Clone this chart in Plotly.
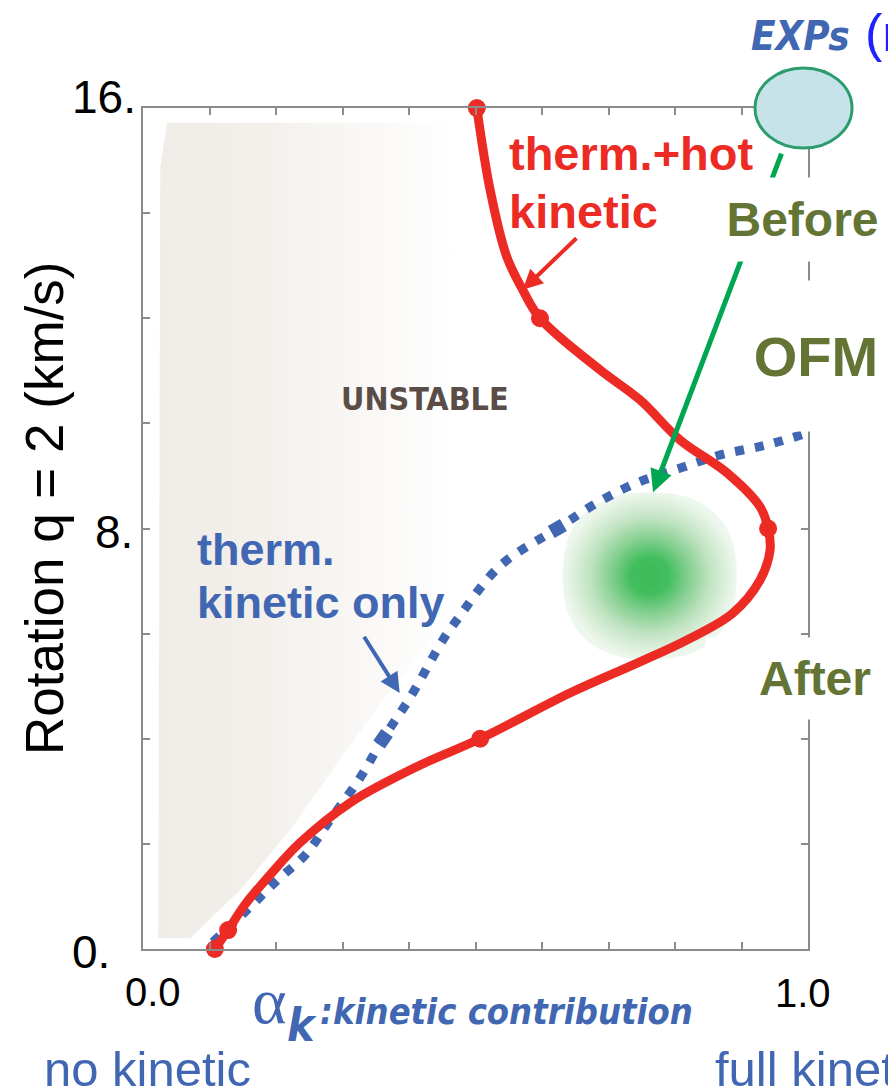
import numpy as np
import plotly.graph_objects as go

# ---- stability boundary: thermal + hot-particle kinetic effects ----
hot_alpha = [0.108, 0.128, 0.153, 0.191, 0.236, 0.311, 0.417, 0.507, 0.642, 0.743,
             0.818, 0.887, 0.928, 0.943, 0.940, 0.928, 0.878, 0.808, 0.747, 0.687,
             0.597, 0.571, 0.547, 0.522, 0.502]
hot_rot = [0.0, 0.36, 0.84, 1.41, 2.02, 2.78, 3.50, 4.0, 4.87, 5.44,
           5.88, 6.39, 7.02, 7.59, 8.0, 8.41, 9.06, 9.68, 10.45, 11.02,
           12.0, 12.54, 13.17, 14.44, 16.0]
hot_node_alpha = [0.108, 0.128, 0.507, 0.940, 0.597, 0.502]
hot_node_rot = [0.0, 0.36, 4.0, 8.0, 12.0, 16.0]

# ---- stability boundary: thermal kinetic effects only ----
therm_alpha = [0.105, 0.153, 0.202, 0.244, 0.281, 0.326, 0.361, 0.402, 0.451, 0.472,
               0.537, 0.623, 0.683, 0.743, 0.808, 0.868, 0.938, 1.0]
therm_rot = [0.13, 0.70, 1.31, 1.79, 2.45, 3.25, 4.0, 4.79, 5.88, 6.26,
             7.29, 8.0, 8.49, 8.87, 9.15, 9.40, 9.59, 9.82]
therm_node_alpha = [0.361, 0.623]
therm_node_rot = [4.0, 8.0]

# ---- unstable region outline ----
unstable_alpha = [0.036, 0.507, 0.507, 0.432, 0.356, 0.296, 0.221, 0.146, 0.071, 0.023, 0.026, 0.036]
unstable_rot = [15.72, 15.72, 6.64, 5.88, 4.64, 3.60, 2.26, 1.12, 0.21, 0.21, 14.88, 15.72]

# ---- OFM operating window ----
ofm_center_alpha, ofm_center_rot = 0.762, 7.10
ofm_half_alpha, ofm_half_rot = 0.131, 1.59

# ---- axes ----
x_ticks = [round(0.1 * i, 1) for i in range(11)]
y_ticks = list(range(0, 17, 2))
x_tick_labels = {0.0: "0.0", 1.0: "1.0"}
y_tick_labels = {0: "0.", 8: "8.", 16: "16."}

RED = "#ec2b24"
BLUE = "#4167b3"
GREEN = "#00a651"
OLIVE = "#637434"
AXIS = "#8c8c8c"
SANS = "Liberation Sans, Arial, Helvetica, sans-serif"
NARROW = "Liberation Sans Narrow, Arial Narrow, DejaVu Sans Condensed, Liberation Sans, sans-serif"

fig = go.Figure()

# unstable region, fading towards the stable side
fig.add_trace(go.Scatter(
    x=unstable_alpha, y=unstable_rot, mode="lines", fill="toself",
    line=dict(width=0, color="rgba(0,0,0,0)"),
    fillgradient=dict(type="horizontal",
                      colorscale=[[0, "#f0ece7"], [0.35, "#f3f0ec"], [1, "#ffffff"]],
                      start=0.03, stop=0.47),
    hoverinfo="skip"))

# OFM operating window (soft rounded blob)
t = np.linspace(0, 2 * np.pi, 181)
c, s = np.cos(t), np.sin(t)
p = 2 / 2.4
blob_x = ofm_center_alpha + ofm_half_alpha * np.sign(c) * np.abs(c) ** p
blob_y = ofm_center_rot + ofm_half_rot * np.sign(s) * np.abs(s) ** p
fig.add_trace(go.Scatter(
    x=blob_x, y=blob_y, mode="lines", fill="toself",
    line=dict(width=0, color="rgba(0,0,0,0)"),
    fillgradient=dict(type="radial",
                      colorscale=[[0, "#3bbb57"], [0.22, "#42be5e"], [0.45, "#86cf91"],
                                  [0.7, "#c2e4c3"], [0.9, "#e0f1df"], [1, "#eef7ee"]]),
    hoverinfo="skip"))

# thermal-only boundary (dotted)
fig.add_trace(go.Scatter(
    x=therm_alpha, y=therm_rot, mode="lines",
    line=dict(color=BLUE, width=9, dash="9px,11px", shape="spline", smoothing=1.0),
    hoverinfo="skip"))
fig.add_trace(go.Scatter(
    x=therm_node_alpha, y=therm_node_rot, mode="markers",
    marker=dict(symbol="square", size=14, color=BLUE, angle=[-55, -30]),
    hoverinfo="skip"))

# thermal + hot kinetic boundary
fig.add_trace(go.Scatter(
    x=hot_alpha, y=hot_rot, mode="lines",
    line=dict(color=RED, width=9, shape="spline", smoothing=1.0),
    hoverinfo="skip"))
fig.add_trace(go.Scatter(
    x=hot_node_alpha, y=hot_node_rot, mode="markers",
    marker=dict(symbol="circle", size=18, color=RED),
    hoverinfo="skip", cliponaxis=False))

fig.update_layout(
    width=888, height=1091, autosize=False,
    margin=dict(l=143, r=80, t=108, b=142),
    plot_bgcolor="white", paper_bgcolor="white",
    showlegend=False,
)
fig.update_xaxes(range=[0, 1], tickvals=x_ticks, showticklabels=False,
                 ticks="inside", ticklen=7, tickwidth=1.5, tickcolor=AXIS,
                 showline=True, linecolor=AXIS, linewidth=2, mirror="ticks",
                 showgrid=False, zeroline=False)
fig.update_yaxes(range=[0, 16], tickvals=y_ticks, showticklabels=False,
                 ticks="inside", ticklen=7, tickwidth=1.5, tickcolor=AXIS,
                 showline=True, linecolor=AXIS, linewidth=2, mirror="ticks",
                 showgrid=False, zeroline=False)

# experimental point marker at the top corner
fig.add_shape(type="circle", xref="paper", yref="paper",
              x0=0.9203, x1=1.0662, y0=0.9524, y1=1.0476,
              fillcolor="#c6e3e9", line=dict(color="#2c9c6c", width=3), layer="above")

ann = []

def note(text, x, y, size, color, xref="x", yref="y", xanchor="left", yanchor="middle",
         family=SANS, **kw):
    ann.append(dict(text=text, x=x, y=y, xref=xref, yref=yref, xanchor=xanchor,
                    yanchor=yanchor, showarrow=False,
                    font=dict(size=size, color=color, family=family), **kw))

def arrow(x, y, ax, ay, color, width, head=2, size=1.0):
    ann.append(dict(text="", x=x, y=y, ax=ax, ay=ay, xref="x", yref="y",
                    axref="x", ayref="y", showarrow=True, arrowhead=head,
                    arrowsize=size, arrowwidth=width, arrowcolor=color,
                    standoff=0, startstandoff=0))

# tick labels
y_label_pos = {16: (-0.0075, 1.0131), 8: (-0.012, 0.4958), 0: (-0.0466, -0.0036)}
for v, txt in y_tick_labels.items():
    px, py = y_label_pos[v]
    note(txt, px, py, 46, "black", xref="paper", yref="paper", xanchor="right")
x_label_pos = {0.0: (0.015, -0.0511), 1.0: (0.9925, -0.0523)}
for v, txt in x_tick_labels.items():
    px, py = x_label_pos[v]
    note(txt, px, py, 40, "black", xref="paper", yref="paper", xanchor="center")

# axis titles
ann.append(dict(text="Rotation q = 2 (km/s)", x=-0.1474, y=0.5244, xref="paper", yref="paper",
                textangle=-90, showarrow=False, xanchor="center", yanchor="middle",
                font=dict(size=53, color="black", family=SANS)))
note("α", 0.1895, -0.0615, 66, BLUE, xref="paper", yref="paper", xanchor="center",
     family="Liberation Serif, Times New Roman, serif")
note("<b><i>k</i></b>", 0.2395, -0.0904, 46, BLUE, xref="paper", yref="paper", xanchor="center",
     family=NARROW)
note("<b><i>:kinetic contribution</i></b>", 0.263, -0.0749, 36, BLUE,
     xref="paper", yref="paper", family=NARROW)
note("no kinetic", -0.152, -0.1427, 49, BLUE, xref="paper", yref="paper")
note("full kinetic", 0.8571, -0.1427, 49, BLUE, xref="paper", yref="paper")

# header labels
note("<b><i>EXPs</i></b>", 0.9881, 1.0856, 40, BLUE, xref="paper", yref="paper",
     xanchor="center", family=NARROW)
note("(r", 1.0827, 1.0892, 52, "#1f22ff", xref="paper", yref="paper")

# region / curve labels
note("<b>UNSTABLE</b>", 0.424, 10.46, 32, "#5a4d47", xanchor="center", family=NARROW)
note("<b>therm.+hot</b>", 0.547, 15.13, 47, RED)
note("<b>kinetic</b>", 0.547, 14.04, 47, RED)
note("<b>therm.</b>", 0.078, 7.61, 45, BLUE)
note("<b>kinetic only</b>", 0.078, 6.60, 45, BLUE)

arrow(0.571, 12.54, 0.654, 13.55, RED, 4, head=2, size=1.0)
arrow(0.386, 4.87, 0.331, 5.97, BLUE, 4, head=2, size=1.0)
arrow(0.767, 8.69, 0.961, 15.16, GREEN, 5, head=2, size=0.9)

# OFM annotation boxes (opaque so they mask the frame behind them)
ann.append(dict(text="<b>Before</b>", x=0.860, y=0.918, xref="paper", yref="paper",
                xanchor="left", yanchor="top", width=173, height=83, align="center",
                bgcolor="white", borderpad=0, showarrow=False,
                font=dict(size=48, color=OLIVE, family=SANS)))
ann.append(dict(text="<b>OFM</b>", x=0.9008, y=0.7955, xref="paper", yref="paper",
                xanchor="left", yanchor="top", width=146, height=150, align="center",
                bgcolor="white", borderpad=0, showarrow=False,
                font=dict(size=56, color=OLIVE, family=SANS)))
ann.append(dict(text="<b>After</b>", x=0.8451, y=0.3710, xref="paper", yref="paper",
                xanchor="left", yanchor="top", width=165, height=81, align="right",
                bgcolor="white", borderpad=0, showarrow=False,
                font=dict(size=48, color=OLIVE, family=SANS)))

fig.update_layout(annotations=ann)
fig.write_html("out.html")
